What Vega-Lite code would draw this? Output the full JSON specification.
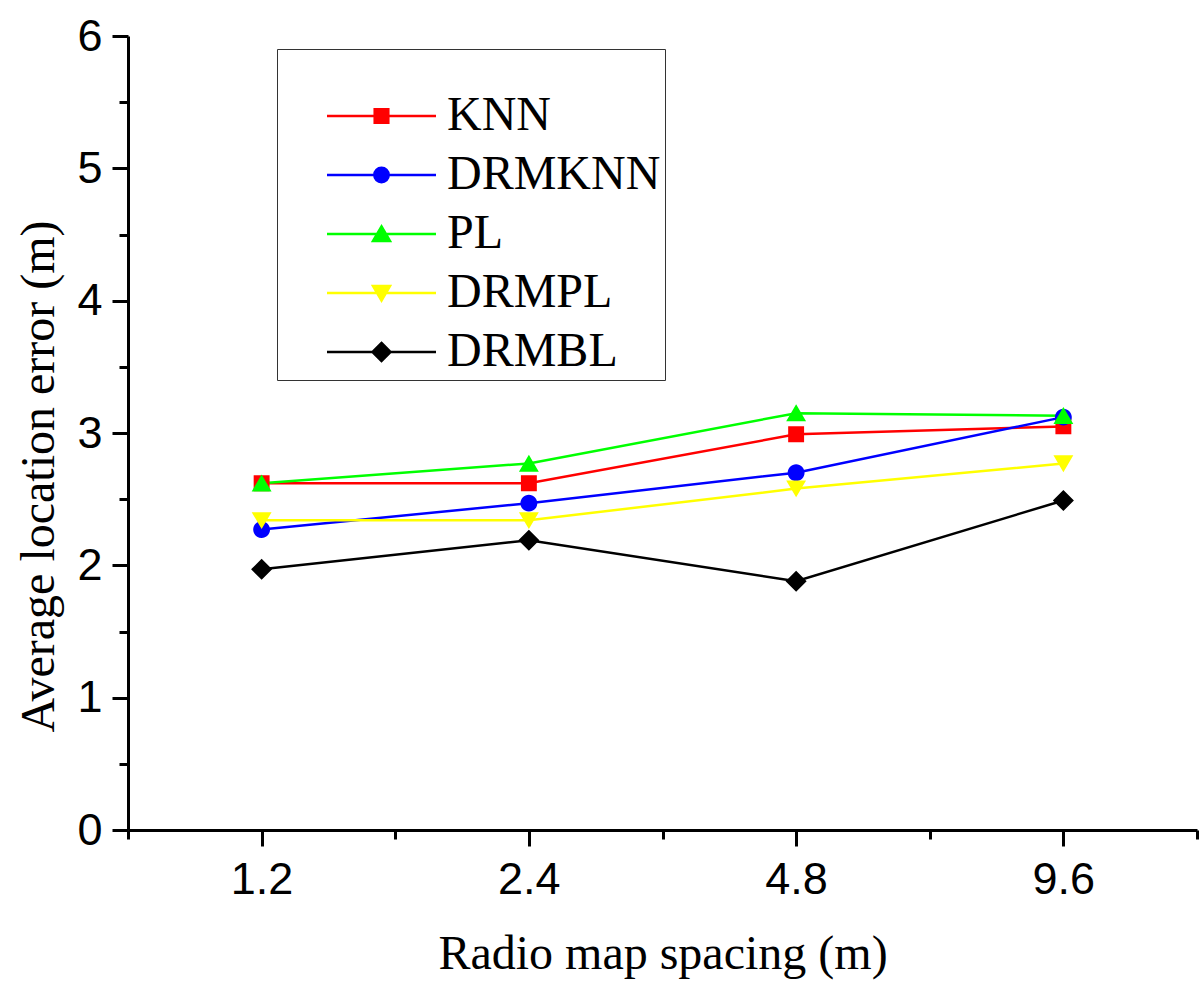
{
  "$schema": "https://vega.github.io/schema/vega-lite/v6.json",
  "width": 1069,
  "height": 794,
  "autosize": {"type": "none"},
  "padding": {"left": 128, "top": 36, "right": 3, "bottom": 153},
  "background": "white",
  "config": {
    "view": {"stroke": null},
    "legend": {
      "titleFont": "Liberation Serif", "titleFontSize": 30, "titlePadding": 9, "titleLimit": 2000,
      "padding": 4, "strokeColor": "#333333",
      "symbolSize": 400, "symbolOffset": 76.5, "symbolOpacity": 1, "symbolStrokeWidth": 2.5,
      "symbolFillColor": "#000000", "symbolStrokeColor": "#000000",
      "labelFont": "Liberation Serif", "labelFontSize": 48, "labelColor": "black", "labelLimit": 500,
      "labelOffset": 41.5, "rowPadding": 11
    }
  },
  "data": {"values": [
    {"spacing": 1.2, "method": "KNN", "error": 2.62},
    {"spacing": 2.4, "method": "KNN", "error": 2.62},
    {"spacing": 4.8, "method": "KNN", "error": 2.99},
    {"spacing": 9.6, "method": "KNN", "error": 3.05},
    {"spacing": 1.2, "method": "DRMKNN", "error": 2.27},
    {"spacing": 2.4, "method": "DRMKNN", "error": 2.47},
    {"spacing": 4.8, "method": "DRMKNN", "error": 2.70},
    {"spacing": 9.6, "method": "DRMKNN", "error": 3.12},
    {"spacing": 1.2, "method": "PL", "error": 2.62},
    {"spacing": 2.4, "method": "PL", "error": 2.77},
    {"spacing": 4.8, "method": "PL", "error": 3.15},
    {"spacing": 9.6, "method": "PL", "error": 3.13},
    {"spacing": 1.2, "method": "DRMPL", "error": 2.34},
    {"spacing": 2.4, "method": "DRMPL", "error": 2.34},
    {"spacing": 4.8, "method": "DRMPL", "error": 2.58},
    {"spacing": 9.6, "method": "DRMPL", "error": 2.77},
    {"spacing": 1.2, "method": "DRMBL", "error": 1.97},
    {"spacing": 2.4, "method": "DRMBL", "error": 2.19},
    {"spacing": 4.8, "method": "DRMBL", "error": 1.88},
    {"spacing": 9.6, "method": "DRMBL", "error": 2.49}
  ]},
  "encoding": {
    "x": {
      "field": "spacing", "type": "quantitative",
      "scale": {"type": "log", "base": 2, "domain": [0.848528, 13.57645], "nice": false},
      "axis": {
        "values": [0.848528, 1.2, 1.697056, 2.4, 3.394113, 4.8, 6.788225, 9.6, 13.57645],
        "tickSize": {"condition": {"test": "indexof([1.2,2.4,4.8,9.6], datum.value) >= 0", "value": 16}, "value": 9},
        "labelExpr": "indexof([1.2,2.4,4.8,9.6], datum.value) >= 0 ? format(datum.value, '.1f') : ''",
        "labelFlush": false, "labelOverlap": false,
        "labelFont": "Liberation Sans", "labelFontSize": 45, "labelColor": "black", "labelPadding": 11,
        "tickWidth": 3, "tickColor": "black", "domainWidth": 3, "domainColor": "black", "grid": false,
        "title": "Radio map spacing (m)", "titleFont": "Liberation Serif", "titleFontSize": 48,
        "titleFontWeight": "normal", "titleColor": "black", "titleBaseline": "alphabetic", "titleY": 138
      }
    },
    "y": {
      "field": "error", "type": "quantitative",
      "scale": {"domain": [0, 6], "nice": false},
      "axis": {
        "values": [0, 0.5, 1, 1.5, 2, 2.5, 3, 3.5, 4, 4.5, 5, 5.5, 6],
        "tickSize": {"condition": {"test": "datum.value % 1 === 0", "value": 16}, "value": 9},
        "labelExpr": "datum.value % 1 === 0 ? format(datum.value, 'd') : ''",
        "labelOverlap": false, "labelFlush": false,
        "labelFont": "Liberation Sans", "labelFontSize": 45, "labelColor": "black", "labelPadding": 10,
        "tickWidth": 3, "tickColor": "black", "domainWidth": 3, "domainColor": "black", "grid": false,
        "title": "Average location error (m)", "titleFont": "Liberation Serif", "titleFontSize": 48,
        "titleFontWeight": "normal", "titleColor": "black", "titleBaseline": "alphabetic",
        "titleX": -75, "titleY": 440
      }
    }
  },
  "layer": [
    {
      "mark": {"type": "point", "filled": true, "size": 400, "opacity": 0, "strokeWidth": 2.5},
      "encoding": {
        "color": {
          "field": "method", "type": "nominal",
          "scale": {"domain": ["KNN", "DRMKNN", "PL", "DRMPL", "DRMBL"], "range": ["#ff0000", "#0000ff", "#00ff00", "#ffff00", "#000000"]},
          "legend": {"orient": "none", "legendX": 149, "legendY": 13, "direction": "vertical", "titleLimit": 2000,
            "title": "\u00a0\u00a0\u00a0\u00a0\u00a0\u00a0\u00a0\u00a0\u00a0\u00a0\u00a0\u00a0\u00a0\u00a0\u00a0\u00a0\u00a0\u00a0\u00a0\u00a0\u00a0\u00a0\u00a0\u00a0\u00a0\u00a0\u00a0\u00a0\u00a0\u00a0\u00a0\u00a0\u00a0\u00a0\u00a0\u00a0\u00a0\u00a0\u00a0\u00a0\u00a0\u00a0\u00a0\u00a0\u00a0\u00a0\u00a0\u00a0\u00a0\u00a0\u00a0\u00a0\u00a0\u00a0"}
        },
        "stroke": {
          "field": "method", "type": "nominal",
          "scale": {"domain": ["KNN", "DRMKNN", "PL", "DRMPL", "DRMBL"], "range": ["#ff0000", "#0000ff", "#00ff00", "#ffff00", "#000000"]},
          "legend": {"orient": "none", "legendX": 149, "legendY": 13, "direction": "vertical", "titleLimit": 2000,
            "title": "\u00a0\u00a0\u00a0\u00a0\u00a0\u00a0\u00a0\u00a0\u00a0\u00a0\u00a0\u00a0\u00a0\u00a0\u00a0\u00a0\u00a0\u00a0\u00a0\u00a0\u00a0\u00a0\u00a0\u00a0\u00a0\u00a0\u00a0\u00a0\u00a0\u00a0\u00a0\u00a0\u00a0\u00a0\u00a0\u00a0\u00a0\u00a0\u00a0\u00a0\u00a0\u00a0\u00a0\u00a0\u00a0\u00a0\u00a0\u00a0\u00a0\u00a0\u00a0\u00a0\u00a0\u00a0"}
        },
        "shape": {
          "field": "method", "type": "nominal",
          "scale": {
            "domain": ["KNN", "DRMKNN", "PL", "DRMPL", "DRMBL"],
            "range": [
              "M-5.45,0H5.45M-0.68,-0.68H0.68V0.68H-0.68Z",
              "M-5.45,0H5.45M-0.72,0A0.72,0.72 0 1,0 0.72,0A0.72,0.72 0 1,0 -0.72,0Z",
              "M-5.45,0H5.45M0,-0.75L0.85,0.7H-0.85Z",
              "M-5.45,0H5.45M0,0.75L0.85,-0.7H-0.85Z",
              "M-5.45,0H5.45M0,-0.9L0.9,0L0,0.9L-0.9,0Z"
            ]
          },
          "legend": {"orient": "none", "legendX": 149, "legendY": 13, "direction": "vertical", "titleLimit": 2000,
            "title": "\u00a0\u00a0\u00a0\u00a0\u00a0\u00a0\u00a0\u00a0\u00a0\u00a0\u00a0\u00a0\u00a0\u00a0\u00a0\u00a0\u00a0\u00a0\u00a0\u00a0\u00a0\u00a0\u00a0\u00a0\u00a0\u00a0\u00a0\u00a0\u00a0\u00a0\u00a0\u00a0\u00a0\u00a0\u00a0\u00a0\u00a0\u00a0\u00a0\u00a0\u00a0\u00a0\u00a0\u00a0\u00a0\u00a0\u00a0\u00a0\u00a0\u00a0\u00a0\u00a0\u00a0\u00a0"}
        }
      }
    },
    {
      "mark": {"type": "line", "strokeWidth": 2.5},
      "encoding": {
        "color": {"field": "method", "type": "nominal"}
      }
    },
    {
      "mark": {"type": "point", "filled": true, "size": 548, "opacity": 1, "strokeWidth": 0},
      "encoding": {
        "color": {"field": "method", "type": "nominal"},
        "shape": {"field": "method", "type": "nominal"}
      }
    }
  ]
}
